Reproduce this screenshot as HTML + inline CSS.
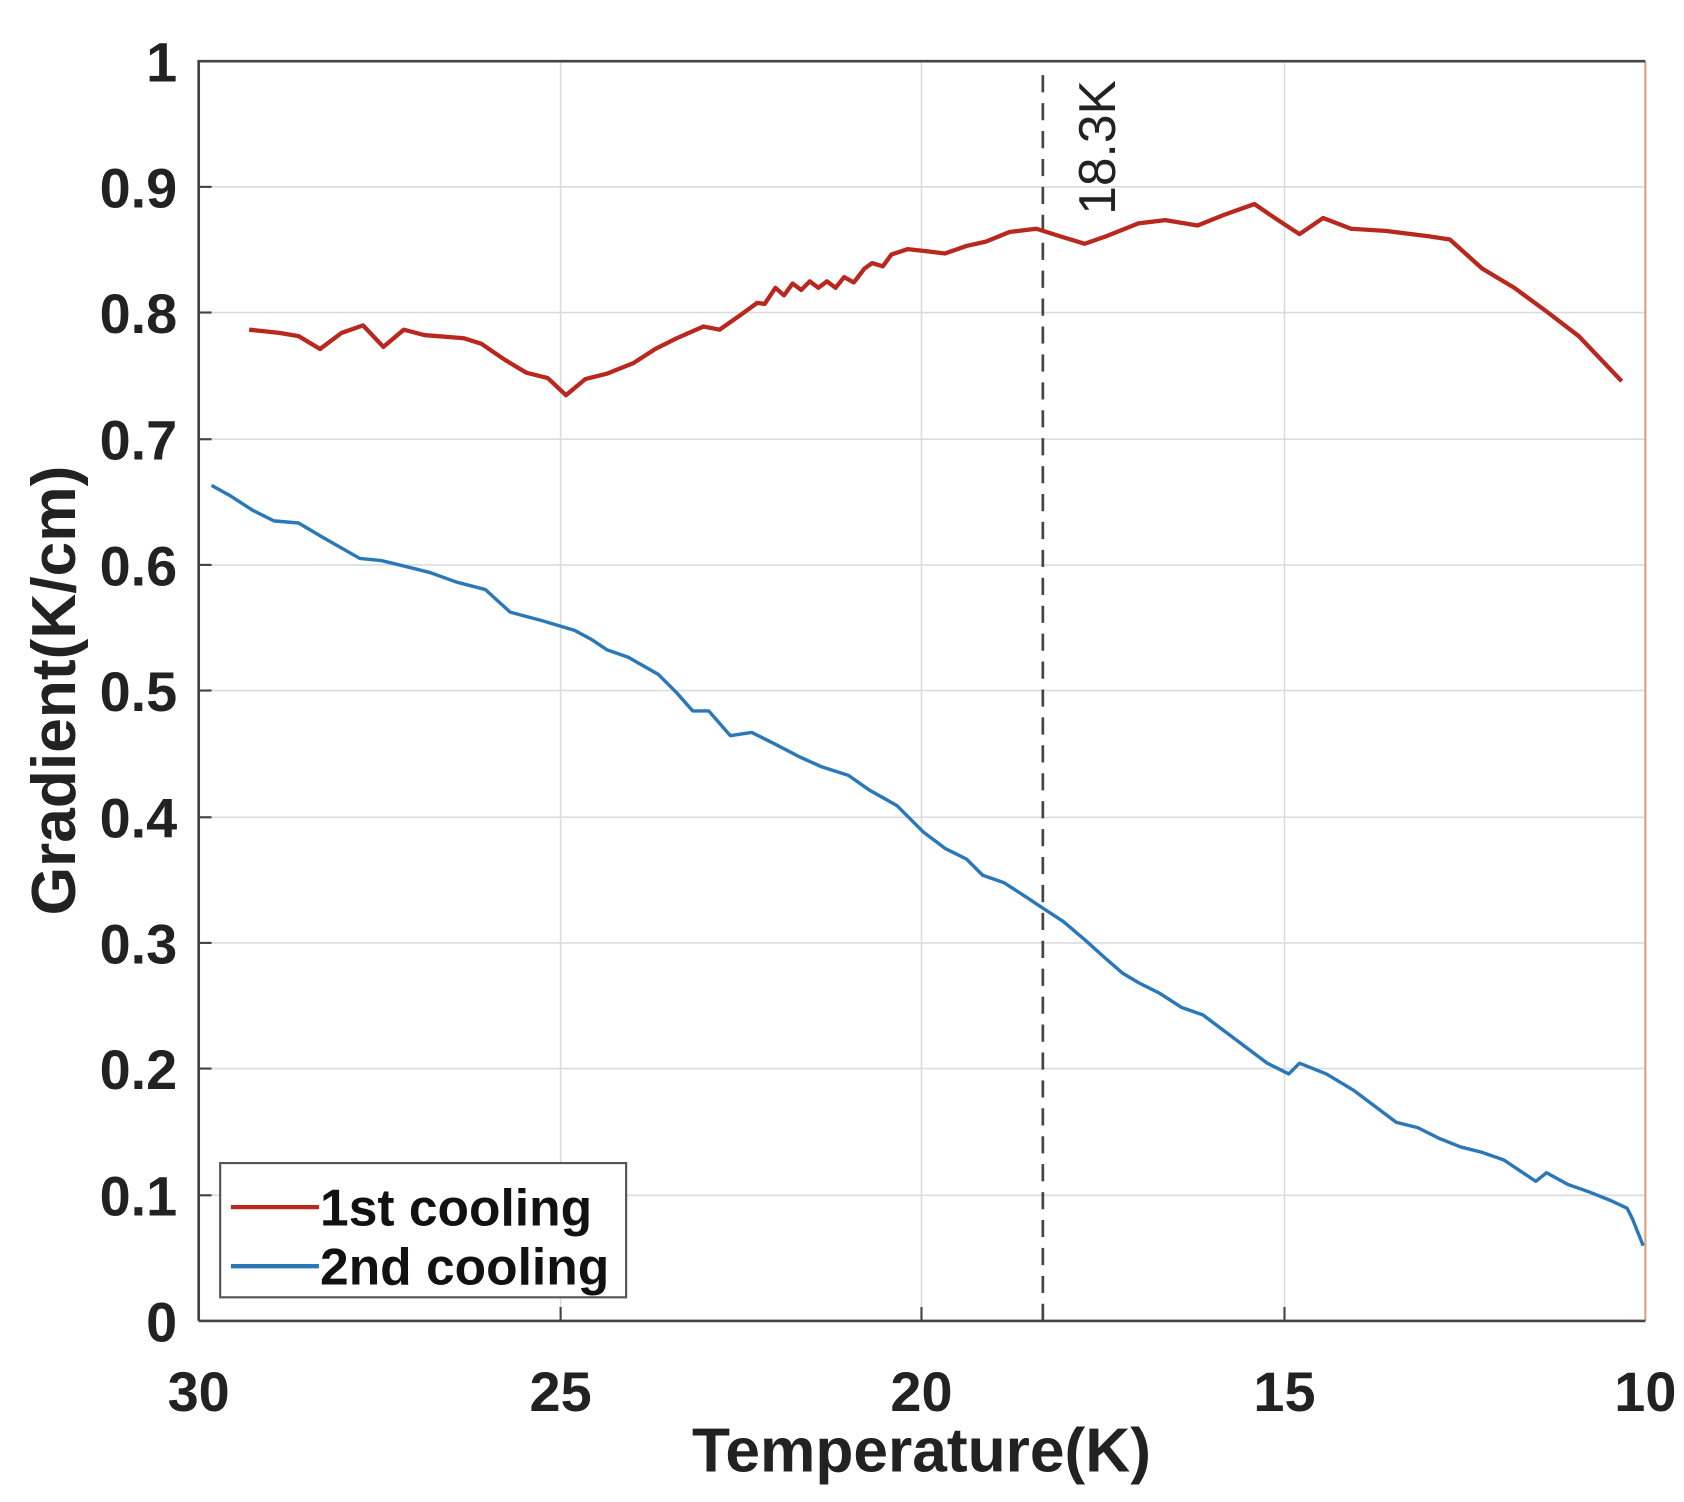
<!DOCTYPE html>
<html><head><meta charset="utf-8"><style>html,body{margin:0;padding:0;background:#fff}svg{display:block}</style></head>
<body>
<svg width="1684" height="1502" viewBox="0 0 1568 1398.6" preserveAspectRatio="none" xmlns="http://www.w3.org/2000/svg" font-family="Liberation Sans, Arial, sans-serif">
<rect width="1568" height="1399" fill="#fff"/>
<g stroke="#dcdcdc" stroke-width="1.5">
<line x1="522" y1="57" x2="522" y2="1230"/><line x1="858" y1="57" x2="858" y2="1230"/><line x1="1196" y1="57" x2="1196" y2="1230"/>
<line x1="185" y1="174" x2="1532" y2="174"/><line x1="185" y1="291" x2="1532" y2="291"/><line x1="185" y1="409" x2="1532" y2="409"/>
<line x1="185" y1="526" x2="1532" y2="526"/><line x1="185" y1="643" x2="1532" y2="643"/><line x1="185" y1="761" x2="1532" y2="761"/>
<line x1="185" y1="878" x2="1532" y2="878"/><line x1="185" y1="995" x2="1532" y2="995"/><line x1="185" y1="1113" x2="1532" y2="1113"/>
</g>
<line x1="1532" y1="57" x2="1532" y2="1230" stroke="#e0a080" stroke-width="2"/>
<path d="M185 1230V57H1532M185 1230H1532" fill="none" stroke="#444" stroke-width="2.5"/>
<g stroke="#444" stroke-width="2">
<line x1="522" y1="1230" x2="522" y2="1217"/><line x1="858" y1="1230" x2="858" y2="1217"/><line x1="1196" y1="1230" x2="1196" y2="1217"/>
<line x1="185" y1="174" x2="197" y2="174"/><line x1="185" y1="291" x2="197" y2="291"/><line x1="185" y1="409" x2="197" y2="409"/><line x1="185" y1="526" x2="197" y2="526"/><line x1="185" y1="643" x2="197" y2="643"/><line x1="185" y1="761" x2="197" y2="761"/><line x1="185" y1="878" x2="197" y2="878"/><line x1="185" y1="995" x2="197" y2="995"/><line x1="185" y1="1113" x2="197" y2="1113"/>
</g>
<line x1="971" y1="70" x2="971" y2="1230" stroke="#444" stroke-width="2.5" stroke-dasharray="16,10"/>
<text transform="translate(1038,200) rotate(-90)" font-size="48" fill="#222">18.3K</text>
<polyline fill="none" stroke="#b8281e" stroke-width="4" stroke-linejoin="round" points="232,307 260,310 278,313 298,325 318,310 338,303 357,323 376,307 395,312 432,315 448,320 470,335 490,347 510,352 527,368 545,353 565,348 590,338 610,325 630,315 655,304 670,307 690,293 705,282 712,283 722,268 730,275 738,264 746,270 754,262 762,268 770,262 778,268 786,258 795,263 805,250 812,245 822,248 830,237 845,232 863,234 880,236 900,229 918,225 940,216 965,213 987,220 1010,227 1030,220 1060,208 1085,205 1115,210 1140,200 1168,190 1190,205 1210,218 1232,203 1258,213 1290,215 1330,220 1350,223 1380,250 1410,268 1440,290 1470,313 1510,355"/>
<polyline fill="none" stroke="#2a78b8" stroke-width="3.2" stroke-linejoin="round" points="197,452 215,462 235,475 255,485 278,487 300,500 335,520 355,522 380,528 400,533 425,542 452,549 475,570 505,578 535,587 550,595 565,605 585,612 613,628 630,645 645,662 660,662 680,685 700,682 720,692 745,705 765,714 790,722 810,736 835,750 860,775 880,790 900,800 915,815 935,822 955,835 970,845 990,858 1010,875 1030,893 1045,906 1060,915 1080,925 1100,938 1120,945 1140,960 1160,975 1180,990 1200,1000 1210,990 1235,1000 1260,1015 1280,1030 1300,1045 1320,1050 1340,1060 1360,1068 1380,1073 1400,1080 1415,1090 1430,1100 1440,1092 1460,1103 1480,1110 1500,1118 1515,1125 1520,1135 1530,1160"/>
<rect x="205" y="1083" width="378" height="125" fill="#fff" stroke="#555" stroke-width="2"/>
<line x1="215" y1="1124" x2="297" y2="1124" stroke="#b8281e" stroke-width="4"/>
<line x1="215" y1="1179" x2="297" y2="1179" stroke="#2a78b8" stroke-width="4"/>
<g font-weight="bold" font-size="48" fill="#111">
<text x="298" y="1141">1st cooling</text>
<text x="298" y="1196">2nd cooling</text>
</g>
<g font-weight="bold" font-size="52" fill="#222" text-anchor="end">
<text x="165" y="76">1</text><text x="165" y="193">0.9</text><text x="165" y="310">0.8</text><text x="165" y="428">0.7</text><text x="165" y="545">0.6</text><text x="165" y="662">0.5</text><text x="165" y="780">0.4</text><text x="165" y="897">0.3</text><text x="165" y="1014">0.2</text><text x="165" y="1132">0.1</text><text x="165" y="1249">0</text>
</g>
<g font-weight="bold" font-size="52" fill="#222" text-anchor="middle">
<text x="185" y="1314">30</text><text x="522" y="1314">25</text><text x="858" y="1314">20</text><text x="1196" y="1314">15</text><text x="1532" y="1314">10</text>
</g>
<text x="858" y="1370" font-weight="bold" font-size="58" fill="#222" text-anchor="middle">Temperature(K)</text>
<text transform="translate(70,643) rotate(-90)" font-weight="bold" font-size="58" fill="#222" text-anchor="middle">Gradient(K/cm)</text>
</svg>
</body></html>
